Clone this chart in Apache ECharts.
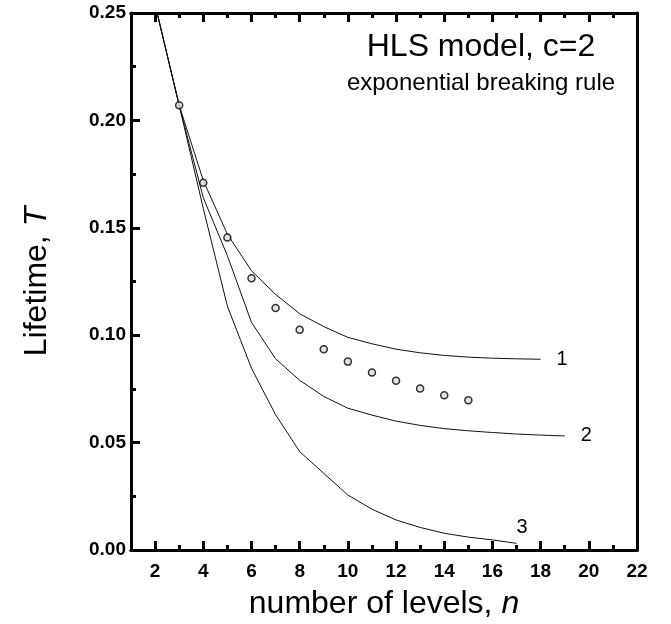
<!DOCTYPE html>
<html>
<head>
<meta charset="utf-8">
<script src="https://cdn.jsdelivr.net/npm/echarts@6/dist/echarts.min.js"></script>
<style>
  html, body { margin: 0; padding: 0; background: #fff; }
  #chart { width: 671px; height: 624px; }
</style>
</head>
<body>
<div id="chart"></div>
<script>
// number of levels n
const levels1 = [2, 3, 4, 5, 6, 7, 8, 9, 10, 11, 12, 13, 14, 15, 16, 17, 18]
const levels2 = [2, 3, 4, 5, 6, 7, 8, 9, 10, 11, 12, 13, 14, 15, 16, 17, 18, 19]
const levels3 = [2, 3, 4, 5, 6, 7, 8, 9, 10, 11, 12, 13, 14, 15, 16, 17]
const pointLevels = [3, 4, 5, 6, 7, 8, 9, 10, 11, 12, 13, 14, 15]

// lifetime T
const curve1 = [0.254, 0.207, 0.172, 0.147, 0.130, 0.119, 0.110, 0.104, 0.099, 0.096, 0.0935, 0.0918, 0.0906, 0.0898, 0.0893, 0.089, 0.0888]
const curve2 = [0.254, 0.207, 0.164, 0.137, 0.106, 0.089, 0.079, 0.0715, 0.066, 0.0628, 0.060, 0.058, 0.0565, 0.0555, 0.0547, 0.054, 0.0535, 0.0531]
const curve3 = [0.254, 0.207, 0.159, 0.1135, 0.0846, 0.063, 0.0458, 0.0357, 0.0256, 0.019, 0.014, 0.0105, 0.0078, 0.006, 0.0047, 0.0031]
const points = [0.207, 0.171, 0.1455, 0.1265, 0.1127, 0.1025, 0.0935, 0.0877, 0.0826, 0.0788, 0.0752, 0.072, 0.0697]

const xMajorTicks = [2, 4, 6, 8, 10, 12, 14, 16, 18, 20, 22]
const xMinorTicks = [3, 5, 7, 9, 11, 13, 15, 17, 19, 21]
const curveNames = ['1', '2', '3']

const zip = (xs, ys) => xs.map((x, i) => [x, ys[i]])

let chart = echarts.init(document.getElementById('chart'))

const font = 'Liberation Sans, Arial, sans-serif'
const axisLine = {show: true, onZero: false, lineStyle: {color: '#000', width: 3}}
const nameRich = {
    a: {fontFamily: font, fontSize: 32, color: '#000'},
    b: {fontFamily: font, fontSize: 32, fontStyle: 'italic', color: '#000'}
}

function xAxisOf(pos, major, withLabels) {
    return {
        type: 'value', position: pos, min: 1, max: 22,
        axisLine: axisLine,
        axisTick: {show: true, inside: true, length: major ? 9 : 5, customValues: major ? xMajorTicks : xMinorTicks,
            lineStyle: {color: '#000', width: 3}},
        axisLabel: {show: withLabels, customValues: xMajorTicks, color: '#000', fontFamily: font,
            fontSize: 19, fontWeight: 'bold', margin: 12},
        splitLine: {show: false},
        name: withLabels ? '{a|number of levels, }{b|n}' : '',
        nameLocation: 'middle', nameGap: 38,
        nameTextStyle: {rich: nameRich}
    }
}

function yAxisOf(pos, withLabels) {
    return {
        type: 'value', position: pos, min: 0, max: 0.25, interval: 0.05,
        axisLine: axisLine,
        axisTick: {show: withLabels, inside: true, length: 9, lineStyle: {color: '#000', width: 3}},
        minorTick: {show: withLabels, splitNumber: 2, length: 5, lineStyle: {color: '#000', width: 3}},
        axisLabel: {show: withLabels, color: '#000', fontFamily: font, fontSize: 19, fontWeight: 'bold',
            margin: 5, formatter: v => v.toFixed(2)},
        splitLine: {show: false},
        name: withLabels ? '{a|Lifetime, }{b|T}' : '',
        nameLocation: 'middle', nameGap: 78,
        nameTextStyle: {rich: nameRich}
    }
}

function curve(name, xs, ys, offset) {
    return {
        type: 'line', name: name, data: zip(xs, ys), symbol: 'none', clip: true,
        lineStyle: {color: '#111', width: 1},
        endLabel: {show: true, formatter: name, color: '#000', fontFamily: font, fontSize: 20, offset: offset},
        z: 2
    }
}

let option = {
    animation: false,
    backgroundColor: '#fff',
    grid: {left: 131, right: 34, top: 13, bottom: 74, outerBoundsMode: 'none'},
    xAxis: [
        xAxisOf('bottom', true, true),
        xAxisOf('bottom', false, false),
        xAxisOf('top', true, false),
        xAxisOf('top', false, false)
    ],
    yAxis: [yAxisOf('left', true), yAxisOf('right', false)],
    graphic: [
        {type: 'text', x: 481, y: 47, style: {text: 'HLS model, c=2', fill: '#000', font: '32px ' + font,
            textAlign: 'center', textVerticalAlign: 'middle'}},
        {type: 'text', x: 481, y: 83, style: {text: 'exponential breaking rule', fill: '#000', font: '24px ' + font,
            textAlign: 'center', textVerticalAlign: 'middle'}}
    ],
    series: [
        curve(curveNames[0], levels1, curve1, [8, 0]),
        curve(curveNames[1], levels2, curve2, [8, 0]),
        curve(curveNames[2], levels3, curve3, [-8, -16]),
        {
            type: 'scatter', data: zip(pointLevels, points),
            symbol: 'circle', symbolSize: 7,
            itemStyle: {color: '#ddd', borderColor: '#000', borderWidth: 1.5},
            z: 3
        }
    ]
}
chart.setOption(option)
</script>
</body>
</html>
